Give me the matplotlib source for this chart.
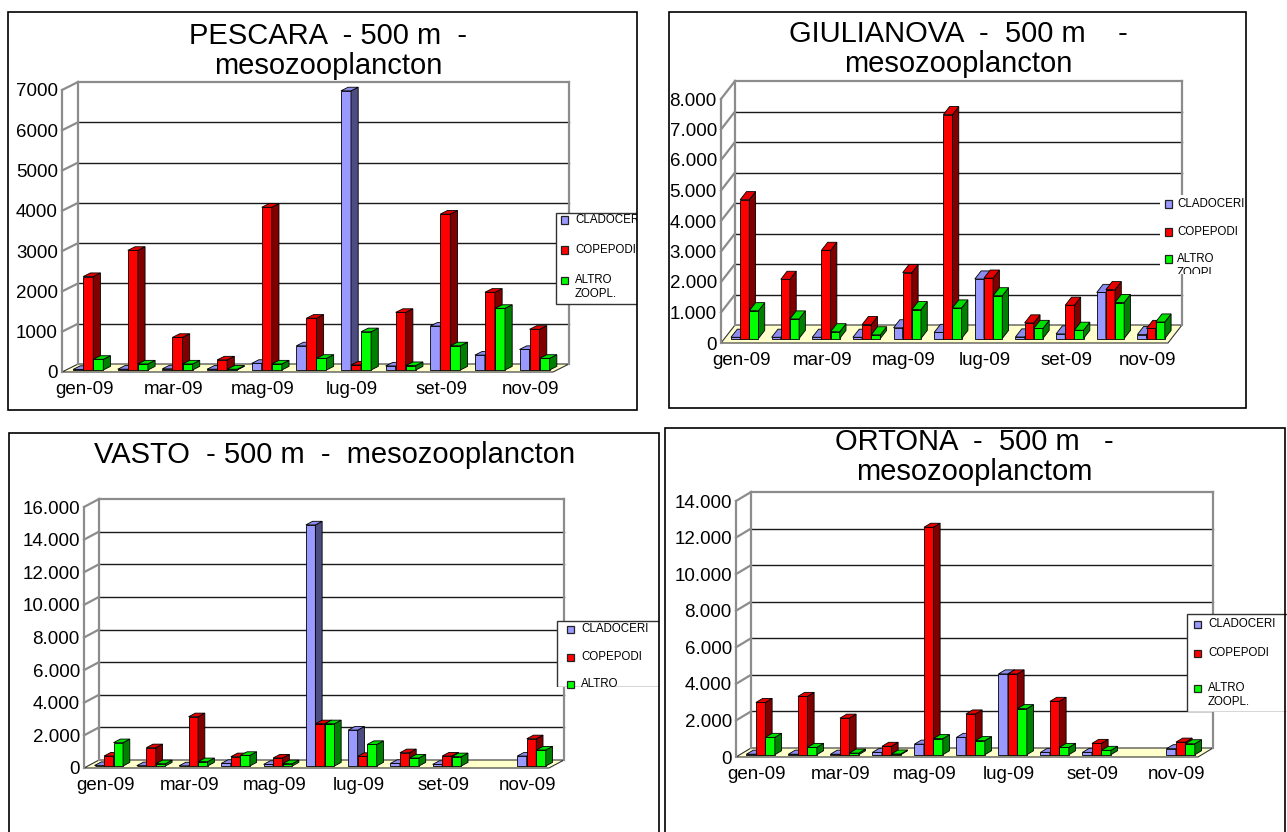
import matplotlib
matplotlib.use("Agg")
import matplotlib.pyplot as plt
from matplotlib.patches import Polygon, Rectangle
from matplotlib.lines import Line2D
from matplotlib.ticker import FuncFormatter
from matplotlib.transforms import Bbox, TransformedBbox

plt.rcParams['font.family'] = ['Liberation Sans', 'DejaVu Sans']

# ---------------------------------------------------------------- data
months = ["gen-09", "feb-09", "mar-09", "apr-09", "mag-09", "giu-09",
          "lug-09", "ago-09", "set-09", "ott-09", "nov-09"]
series_names = ["CLADOCERI", "COPEPODI", "ALTRO\nZOOPL."]

pescara_cladoceri = [15, 20, 30, 20, 165, 600, 6930, 100, 1090, 370, 510]
pescara_copepodi = [2320, 2970, 810, 250, 4040, 1285, 125, 1430, 3870, 1930, 1010]
pescara_altro = [265, 150, 150, 20, 150, 290, 950, 110, 600, 1530, 290]

giulianova_cladoceri = [40, 40, 40, 40, 350, 200, 1950, 50, 150, 1510, 130]
giulianova_copepodi = [4550, 1940, 2890, 455, 2160, 7340, 1980, 510, 1090, 1600, 330]
giulianova_altro = [910, 640, 220, 120, 945, 1000, 1400, 330, 270, 1180, 540]

vasto_cladoceri = [30, 20, 10, 160, 100, 14780, 2200, 160, 100, 0, 610]
vasto_copepodi = [610, 1120, 3020, 570, 490, 2590, 590, 815, 610, 0, 1670]
vasto_altro = [1430, 140, 265, 650, 140, 2590, 1320, 490, 570, 0, 980]

ortona_cladoceri = [30, 30, 30, 130, 580, 950, 4420, 130, 130, 0, 330]
ortona_copepodi = [2860, 3190, 2000, 460, 12440, 2230, 4420, 2920, 620, 0, 690]
ortona_altro = [950, 400, 90, 40, 880, 770, 2520, 400, 240, 0, 600]

pescara_yticks = [0, 1000, 2000, 3000, 4000, 5000, 6000, 7000]
giulianova_yticks = [0, 1000, 2000, 3000, 4000, 5000, 6000, 7000, 8000]
vasto_yticks = [0, 2000, 4000, 6000, 8000, 10000, 12000, 14000, 16000]
ortona_yticks = [0, 2000, 4000, 6000, 8000, 10000, 12000, 14000]

front_colors = ["#9999FF", "#FF0000", "#00FF00"]
side_colors = ["#4C4C80", "#800000", "#008000"]
top_colors = ["#8C8CEE", "#E60000", "#00E000"]

# ---------------------------------------------------------------- layout
FIG_W, FIG_H = 1287, 832
fig = plt.figure(figsize=(FIG_W / 100, FIG_H / 100), dpi=100)
fig.patch.set_facecolor("white")

GROUP_START = 0.16    # gap before first bar of a group (category units)
BAR_W = 0.225         # bar width (category units)
BAR_FRONT = 0.25      # bar front plane, fraction of wall depth
BAR_DEPTH = 0.45      # bar depth, fraction of wall depth

YTICK_SIZE = 13.5
XTICK_SIZE = 13.5
TITLE_SIZE = 21
LEGEND_SIZE = 8.3


def fig_rect(x0, y0, x1, y1):
    return [x0 / FIG_W, 1 - y1 / FIG_H, (x1 - x0) / FIG_W, (y1 - y0) / FIG_H]


def clip_box(x0, y0, x1, y1):
    l, b, w, h = fig_rect(x0, y0, x1, y1)
    return TransformedBbox(Bbox.from_bounds(l, b, w, h), fig.transFigure)


def thousands_dot(v, pos):
    return f"{v:,.0f}".replace(",", ".")


def plain(v, pos):
    return f"{v:.0f}"


def draw_panel(front_px, wall_px, yticks, fmt, values, title_lines, title_xy,
               border_px, legend_box, legend_frame, legend_clip,
               legend_marker_x, legend_text_x, legend_rows):
    x0, ytop, x1, y0 = front_px
    ax = fig.add_axes(fig_rect(x0, ytop, x1, y0))
    n = len(months)
    ymax = yticks[-1]
    ax.set_xlim(0, n)
    ax.set_ylim(0, ymax)
    ax.patch.set_visible(False)
    for s in ax.spines.values():
        s.set_visible(False)

    ux = n / (x1 - x0)
    uy = ymax / (y0 - ytop)
    wx, wy = wall_px[0] * ux, wall_px[1] * uy

    wall_kw = dict(color="#8C8C8C", lw=1.6, clip_on=False, zorder=1)
    grid_kw = dict(color="#1A1A1A", lw=1.0, clip_on=False, zorder=1)

    # floor
    ax.add_patch(Polygon([(0, 0), (n, 0), (n + wx, wy), (wx, wy)],
                         closed=True, facecolor="#FFFFCC", edgecolor="#333333",
                         lw=0.8, clip_on=False, zorder=1))
    # back wall grid lines and left wall diagonals
    for v in yticks[1:-1]:
        ax.add_line(Line2D([wx, n + wx], [v + wy, v + wy], **grid_kw))
    for v in yticks[1:]:
        ax.add_line(Line2D([0, wx], [v, v + wy], **wall_kw))
    ax.add_line(Line2D([wx, n + wx], [ymax + wy, ymax + wy], **wall_kw))
    ax.add_line(Line2D([wx, wx], [wy, ymax + wy], **wall_kw))
    ax.add_line(Line2D([n + wx, n + wx], [wy, ymax + wy], **wall_kw))
    ax.add_line(Line2D([0, 0], [0, ymax], **wall_kw))

    # bars: front face through ax.bar, side and top faces as polygons
    bx, by = BAR_FRONT * wx, BAR_FRONT * wy
    dx, dy = BAR_DEPTH * wx, BAR_DEPTH * wy
    z = 2
    for i in range(n):
        for s, series in enumerate(values):
            v = series[i]
            if v <= 0:
                continue
            xl = i + GROUP_START + s * BAR_W + bx
            xr = xl + BAR_W
            ax.bar(xl, v, width=BAR_W, bottom=by, align="edge",
                   color=front_colors[s], edgecolor="black", lw=0.6,
                   zorder=z, clip_on=False)
            ax.add_patch(Polygon([(xr, by), (xr + dx, by + dy),
                                  (xr + dx, by + v + dy), (xr, by + v)],
                                 closed=True, facecolor=side_colors[s],
                                 edgecolor="black", lw=0.6, zorder=z,
                                 clip_on=False))
            ax.add_patch(Polygon([(xl, by + v), (xr, by + v),
                                  (xr + dx, by + v + dy), (xl + dx, by + v + dy)],
                                 closed=True, facecolor=top_colors[s],
                                 edgecolor="black", lw=0.6, zorder=z,
                                 clip_on=False))
            z += 0.01

    # axis labels
    ax.set_yticks(yticks)
    ax.yaxis.set_major_formatter(FuncFormatter(fmt))
    ax.set_xticks([i + 0.5 for i in range(0, n, 2)])
    ax.set_xticklabels(months[::2])
    ax.tick_params(axis="both", length=0, colors="black")
    ax.tick_params(axis="y", pad=3, labelsize=YTICK_SIZE)
    ax.tick_params(axis="x", pad=6.5, labelsize=XTICK_SIZE)

    # title
    tx, ty = title_xy
    fig.text(tx / FIG_W, 1 - ty / FIG_H, "\n".join(title_lines),
             ha="center", va="top", fontsize=TITLE_SIZE, linespacing=1.08)

    # panel border
    bx0, by0, bx1, by1 = border_px
    fig.add_artist(Rectangle((bx0 / FIG_W, 1 - by1 / FIG_H),
                             (bx1 - bx0) / FIG_W, (by1 - by0) / FIG_H,
                             transform=fig.transFigure, fill=False,
                             edgecolor="black", lw=1.2, zorder=5))

    # legend
    lx0, ly0, lx1, ly1 = legend_box
    cbox = clip_box(*legend_clip)
    frame = Rectangle((lx0 / FIG_W, 1 - ly1 / FIG_H),
                      (lx1 - lx0) / FIG_W, (ly1 - ly0) / FIG_H,
                      transform=fig.transFigure, facecolor="white",
                      edgecolor="#333333" if legend_frame else "none",
                      lw=1.0, zorder=3)
    fig.add_artist(frame)
    frame.set_clip_box(cbox)
    for s, name in enumerate(series_names):
        ry = legend_rows[s]
        m = Rectangle(((legend_marker_x - 3.5) / FIG_W, 1 - (ry + 3.5) / FIG_H),
                      7 / FIG_W, 7 / FIG_H, transform=fig.transFigure,
                      facecolor=front_colors[s], edgecolor="#222222", lw=0.9,
                      zorder=4)
        fig.add_artist(m)
        t = fig.text(legend_text_x / FIG_W, 1 - (ry - 6) / FIG_H, name,
                     ha="left", va="top", fontsize=LEGEND_SIZE, linespacing=1.2,
                     zorder=4)
        t.set_clip_box(cbox)
        t.set_clip_on(True)


draw_panel(front_px=(62, 90, 553, 372), wall_px=(16, 8), yticks=pescara_yticks,
           fmt=plain,
           values=[pescara_cladoceri, pescara_copepodi, pescara_altro],
           title_lines=["PESCARA  - 500 m  -", "mesozooplancton"],
           title_xy=(328, 22), border_px=(8, 12, 637, 410),
           legend_box=(556, 213, 660, 304), legend_frame=True,
           legend_clip=(540, 200, 637, 320),
           legend_marker_x=564, legend_text_x=575, legend_rows=(220, 250, 280))

draw_panel(front_px=(721, 99, 1168, 343), wall_px=(14, 18),
           yticks=giulianova_yticks, fmt=thousands_dot,
           values=[giulianova_cladoceri, giulianova_copepodi, giulianova_altro],
           title_lines=["GIULIANOVA  -  500 m    -", "mesozooplancton"],
           title_xy=(958, 20), border_px=(669, 12, 1246, 408),
           legend_box=(1160, 195, 1245, 274), legend_frame=False,
           legend_clip=(1160, 195, 1245, 274),
           legend_marker_x=1168, legend_text_x=1177, legend_rows=(204, 232, 259))

draw_panel(front_px=(84, 507, 549, 768), wall_px=(15, 8), yticks=vasto_yticks,
           fmt=thousands_dot,
           values=[vasto_cladoceri, vasto_copepodi, vasto_altro],
           title_lines=["VASTO  - 500 m  -  mesozooplancton"],
           title_xy=(335, 441), border_px=(9, 433, 659, 845),
           legend_box=(557, 621, 680, 687), legend_frame=True,
           legend_clip=(540, 600, 659, 687),
           legend_marker_x=570, legend_text_x=581, legend_rows=(629, 657, 684))

draw_panel(front_px=(736, 501, 1198, 757), wall_px=(15, 9), yticks=ortona_yticks,
           fmt=thousands_dot,
           values=[ortona_cladoceri, ortona_copepodi, ortona_altro],
           title_lines=["ORTONA  -  500 m   -", "mesozooplanctom"],
           title_xy=(974, 428), border_px=(665, 428, 1285, 845),
           legend_box=(1187, 614, 1300, 712), legend_frame=True,
           legend_clip=(1170, 600, 1287, 712),
           legend_marker_x=1197, legend_text_x=1208, legend_rows=(624, 653, 688))

fig.savefig("out.png", dpi=100)
